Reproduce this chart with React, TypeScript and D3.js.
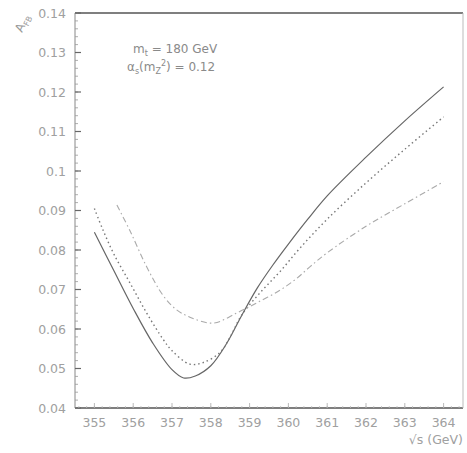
import React from "react";
import * as d3 from "d3";

const solidX = [355, 355.5, 356, 356.5, 357, 357.3, 357.6, 358, 358.4, 358.8, 359.2, 359.6, 360, 360.5, 361, 362, 363, 364];
const solidY = [0.0845, 0.0748, 0.0652, 0.0565, 0.0497, 0.0476, 0.0481, 0.0507, 0.0562, 0.0635, 0.0704, 0.0762, 0.0815, 0.0878, 0.0937, 0.1035, 0.1127, 0.1213];

const dottedX = [355, 355.22, 355.5, 355.92, 356.35, 356.77, 357, 357.46, 357.8, 358.24, 358.5, 358.8, 359.3, 359.78, 360.3, 361, 362, 363, 364];
const dottedY = [0.0905, 0.0851, 0.079, 0.0716, 0.064, 0.0574, 0.0545, 0.0511, 0.0515, 0.0541, 0.058, 0.0636, 0.0695, 0.0745, 0.0805, 0.0878, 0.097, 0.1055, 0.1137];

const dashX = [355.58, 355.92, 356.35, 356.77, 357.1, 357.46, 358.06, 358.68, 359.2, 359.78, 360.2, 360.56, 361, 362, 363, 364];
const dashY = [0.0914, 0.0848, 0.0757, 0.0685, 0.065, 0.063, 0.0615, 0.0641, 0.0667, 0.0698, 0.0727, 0.0758, 0.0793, 0.086, 0.0917, 0.0973];

const xTicks = [355, 356, 357, 358, 359, 360, 361, 362, 363, 364];
const yTicks = [0.04, 0.05, 0.06, 0.07, 0.08, 0.09, 0.1, 0.11, 0.12, 0.13, 0.14];
const yTickLabels = ["0.04", "0.05", "0.06", "0.07", "0.08", "0.09", "0.1", "0.11", "0.12", "0.13", "0.14"];

export default function App() {
  const W = 467, H = 453;
  const left = 75, right = 463, top = 13, bottom = 408;
  const x = d3.scaleLinear().domain([354.5, 364.5]).range([left, right]);
  const y = d3.scaleLinear().domain([0.04, 0.14]).range([bottom, top]);
  const line = d3.line<[number, number]>().x(d => x(d[0])).y(d => y(d[1])).curve(d3.curveCatmullRom.alpha(0.5));
  const mk = (xs: number[], ys: number[]) => line(xs.map((v, i) => [v, ys[i]] as [number, number])) || "";
  const yMinor = d3.range(0.04, 0.1401, 0.002);
  const xMinor = d3.range(354.6, 364.5, 0.2);
  const font = "'DejaVu Sans', sans-serif";
  return (
    <svg width={W} height={H} style={{ position: "absolute", left: 0, top: 0, background: "#fff" }}>
      <line x1={left} x2={right} y1={top} y2={top} stroke="#555" strokeWidth={1.6} />
      <line x1={left} x2={right} y1={bottom} y2={bottom} stroke="#555" strokeWidth={1.6} />
      <line x1={left} x2={left} y1={top} y2={bottom} stroke="#888" strokeWidth={1} />
      <line x1={right} x2={right} y1={top} y2={bottom} stroke="#bbb" strokeWidth={1} />
      {yMinor.map((v, i) => (
        <line key={"ym" + i} x1={left} x2={left + 3} y1={y(v)} y2={y(v)} stroke="#999" strokeWidth={0.8} />
      ))}
      {yTicks.map((v, i) => (
        <line key={"yt" + i} x1={left} x2={left + 6} y1={y(v)} y2={y(v)} stroke="#666" strokeWidth={1.2} />
      ))}
      {xMinor.map((v, i) => (
        <line key={"xm" + i} x1={x(v)} x2={x(v)} y1={bottom} y2={bottom - 2} stroke="#bbb" strokeWidth={0.8} />
      ))}
      {xTicks.map((v, i) => (
        <line key={"xt" + i} x1={x(v)} x2={x(v)} y1={bottom} y2={bottom - 5} stroke="#aaa" strokeWidth={0.8} />
      ))}
      {yTicks.map((v, i) => (
        <text key={"yl" + i} x={66} y={y(v) + 4.5} textAnchor="end" fontFamily={font} fontSize={12.5} fill="#a0a0a0">
          {yTickLabels[i]}
        </text>
      ))}
      {xTicks.map((v, i) => (
        <text key={"xl" + i} x={x(v)} y={427} textAnchor="middle" fontFamily={font} fontSize={12.5} fill="#a0a0a0">
          {String(v)}
        </text>
      ))}
      <text x={463} y={444} textAnchor="end" fontFamily={font} fontSize={12.5} fill="#a0a0a0">√s (GeV)</text>
      <text transform="translate(22,33) rotate(-65)" fontFamily={font} fontSize={12} fill="#9a9a9a">
        A<tspan fontSize={8} dy={3}>FB</tspan>
      </text>
      <text x={133} y={53} fontFamily={font} fontSize={12} fill="#8a8a8a">
        m<tspan fontSize={8} dy={3}>t</tspan><tspan dy={-3}> = 180 GeV</tspan>
      </text>
      <text x={127} y={71} fontFamily={font} fontSize={12} fill="#8a8a8a">
        α<tspan fontSize={8} dy={3}>s</tspan><tspan dy={-3}>(m</tspan><tspan fontSize={8} dy={3}>Z</tspan><tspan fontSize={8} dy={-8}>2</tspan><tspan dy={5}>) = 0.12</tspan>
      </text>
      <path d={mk(solidX, solidY)} fill="none" stroke="#666" strokeWidth={1.2} />
      <path d={mk(dottedX, dottedY)} fill="none" stroke="#777" strokeWidth={1.4} strokeDasharray="1.5 3" />
      <path d={mk(dashX, dashY)} fill="none" stroke="#aaa" strokeWidth={1.1} strokeDasharray="6 3 1.5 3" />
    </svg>
  );
}
